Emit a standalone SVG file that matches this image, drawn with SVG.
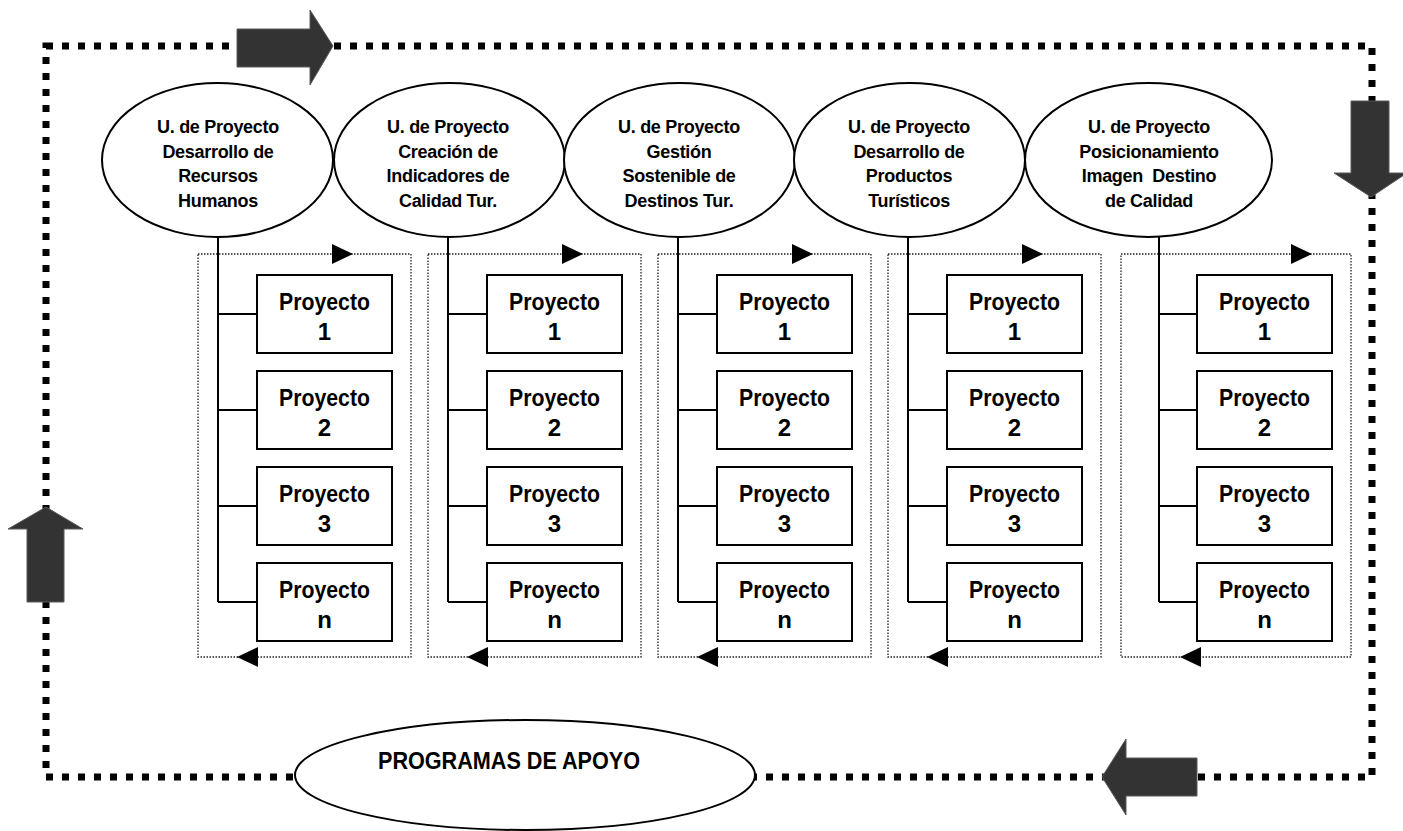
<svg xmlns="http://www.w3.org/2000/svg" width="1403" height="831" viewBox="0 0 1403 831">
<style>
.bg{fill:#fff}
.outer{fill:none;stroke:#000;stroke-width:7;stroke-dasharray:7 9}
.bigarrow{fill:#333;stroke:#5a5a5a;stroke-width:1}
.ell{fill:#fff;stroke:#000;stroke-width:2}
.frame{fill:none;stroke:#222;stroke-width:1.3;stroke-dasharray:1.5 1.5}
.conn{fill:none;stroke:#000;stroke-width:2}
.box{fill:#fff;stroke:#000;stroke-width:2}
.tri{fill:#000}
.et{font-family:"Liberation Sans",Arial,sans-serif;font-weight:bold;font-size:18px;letter-spacing:-0.3px;text-anchor:middle;fill:#000;white-space:pre}
.pt{font-family:"Liberation Sans",Arial,sans-serif;font-weight:bold;font-size:24px;text-anchor:middle;fill:#000}
.prog{font-family:"Liberation Sans",Arial,sans-serif;font-weight:bold;font-size:24px;text-anchor:middle;fill:#000}
</style>
<defs>
<g id="projects">
<rect class="box" x="0" y="275" width="135" height="78"/>
<text class="pt" x="67.5" y="310" textLength="91" lengthAdjust="spacingAndGlyphs">Proyecto</text>
<text class="pt" x="67.5" y="340">1</text>
<rect class="box" x="0" y="371" width="135" height="78"/>
<text class="pt" x="67.5" y="406" textLength="91" lengthAdjust="spacingAndGlyphs">Proyecto</text>
<text class="pt" x="67.5" y="436">2</text>
<rect class="box" x="0" y="467" width="135" height="78"/>
<text class="pt" x="67.5" y="502" textLength="91" lengthAdjust="spacingAndGlyphs">Proyecto</text>
<text class="pt" x="67.5" y="532">3</text>
<rect class="box" x="0" y="563" width="135" height="78"/>
<text class="pt" x="67.5" y="598" textLength="91" lengthAdjust="spacingAndGlyphs">Proyecto</text>
<text class="pt" x="67.5" y="628">n</text>
</g>
</defs>
<rect class="bg" x="0" y="0" width="1403" height="831"/>

<g id="cycle">
<path class="outer" d="M46,46 H1372 V777 H46 Z"/>
</g>

<g id="connectors">
<rect class="frame" x="198" y="254" width="213" height="403"/>
<path class="tri" d="M332,244 L353,254 L332,264 Z"/>
<path class="tri" d="M237,657 L258,647 L258,667 Z"/>
<path class="conn" d="M218,237 V602 M218,314 H257 M218,410 H257 M218,506 H257 M218,602 H257"/>
<rect class="frame" x="428" y="254" width="213" height="403"/>
<path class="tri" d="M562,244 L583,254 L562,264 Z"/>
<path class="tri" d="M467,657 L488,647 L488,667 Z"/>
<path class="conn" d="M448,237 V602 M448,314 H487 M448,410 H487 M448,506 H487 M448,602 H487"/>
<rect class="frame" x="658" y="254" width="213" height="403"/>
<path class="tri" d="M792,244 L813,254 L792,264 Z"/>
<path class="tri" d="M697,657 L718,647 L718,667 Z"/>
<path class="conn" d="M678,237 V602 M678,314 H717 M678,410 H717 M678,506 H717 M678,602 H717"/>
<rect class="frame" x="888" y="254" width="213" height="403"/>
<path class="tri" d="M1022,244 L1043,254 L1022,264 Z"/>
<path class="tri" d="M927,657 L948,647 L948,667 Z"/>
<path class="conn" d="M908,237 V602 M908,314 H947 M908,410 H947 M908,506 H947 M908,602 H947"/>
<rect class="frame" x="1121" y="254" width="230" height="403"/>
<path class="tri" d="M1291,244 L1312,254 L1291,264 Z"/>
<path class="tri" d="M1180,657 L1201,647 L1201,667 Z"/>
<path class="conn" d="M1159,237 V602 M1159,314 H1197 M1159,410 H1197 M1159,506 H1197 M1159,602 H1197"/>
</g>

<g id="arrow-top"><path class="bigarrow" d="M237,29 H310 V10 L333,46 L310,85 V67 H237 Z"/></g>
<g id="arrow-right"><path class="bigarrow" d="M1351,101 H1389 V173 H1407 L1371,197 L1334,173 H1351 Z"/></g>
<g id="arrow-bottom"><path class="bigarrow" d="M1197,758 V796 H1126 V815 L1102,777 L1126,739 V758 Z"/></g>
<g id="arrow-left"><path class="bigarrow" d="M27,602 V529 H8 L46,507 L83,529 H64 V602 Z"/></g>

<g id="unit1">
<ellipse class="ell" cx="217.5" cy="160" rx="115.5" ry="77"/>
<text class="et" x="218" y="133">U. de Proyecto</text>
<text class="et" x="218" y="158">Desarrollo de</text>
<text class="et" x="218" y="182">Recursos</text>
<text class="et" x="218" y="207">Humanos</text>
</g>
<g id="unit2">
<ellipse class="ell" cx="449.5" cy="160" rx="115.5" ry="77"/>
<text class="et" x="448" y="133">U. de Proyecto</text>
<text class="et" x="448" y="158">Creación de</text>
<text class="et" x="448" y="182">Indicadores de</text>
<text class="et" x="448" y="207">Calidad Tur.</text>
</g>
<g id="unit3">
<ellipse class="ell" cx="679.5" cy="160" rx="115.5" ry="77"/>
<text class="et" x="679" y="133">U. de Proyecto</text>
<text class="et" x="679" y="158">Gestión</text>
<text class="et" x="679" y="182">Sostenible de</text>
<text class="et" x="679" y="207">Destinos Tur.</text>
</g>
<g id="unit4">
<ellipse class="ell" cx="909.5" cy="160" rx="115.5" ry="77"/>
<text class="et" x="909" y="133">U. de Proyecto</text>
<text class="et" x="909" y="158">Desarrollo de</text>
<text class="et" x="909" y="182">Productos</text>
<text class="et" x="909" y="207">Turísticos</text>
</g>
<g id="unit5">
<ellipse class="ell" cx="1148.5" cy="160" rx="123.5" ry="77"/>
<text class="et" x="1149" y="133">U. de Proyecto</text>
<text class="et" x="1149" y="158">Posicionamiento</text>
<text class="et" x="1149" y="182" xml:space="preserve">Imagen  Destino</text>
<text class="et" x="1149" y="207">de Calidad</text>
</g>

<g id="projects1"><use href="#projects" x="257" y="0"/></g>
<g id="projects2"><use href="#projects" x="487" y="0"/></g>
<g id="projects3"><use href="#projects" x="717" y="0"/></g>
<g id="projects4"><use href="#projects" x="947" y="0"/></g>
<g id="projects5"><use href="#projects" x="1197" y="0"/></g>

<g id="programas">
<ellipse class="ell" cx="525" cy="775" rx="230" ry="55"/>
<text class="prog" x="509" y="769" textLength="262" lengthAdjust="spacingAndGlyphs">PROGRAMAS DE APOYO</text>
</g>
</svg>
